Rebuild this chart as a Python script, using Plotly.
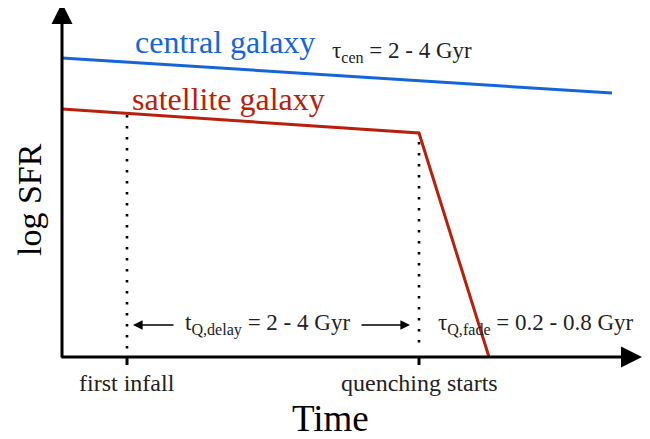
import plotly.graph_objects as go

# Schematic data (arbitrary units: time along x, log SFR along y)
central_time = [0, 550]
central_logsfr = [299, 264]
satellite_time = [0, 357, 427]
satellite_logsfr = [248, 224, 0]
event_time = [65, 357]
event_labels = ["first infall", "quenching starts"]
dotted_top = [242, 215]

FONT = "Liberation Serif"
BLUE = "#1565d8"
RED = "#b8200c"
TXT = "#222222"

fig = go.Figure()

# dotted vertical markers
for t, top in zip(event_time, dotted_top):
    fig.add_trace(go.Scatter(x=[t, t], y=[top, 6], mode="lines",
                             line=dict(color="black", width=2.6, dash="2.6px,8.4px"),
                             hoverinfo="skip", showlegend=False))

fig.add_trace(go.Scatter(x=central_time, y=central_logsfr, mode="lines",
                         line=dict(color=BLUE, width=3), showlegend=False))
fig.add_trace(go.Scatter(x=satellite_time, y=satellite_logsfr, mode="lines",
                         line=dict(color=RED, width=3), showlegend=False))

ann = []
# axes with arrows
ann.append(dict(x=0, y=354, ax=0, ay=-2, xref="x", yref="y", axref="x", ayref="y",
                showarrow=True, arrowhead=2, arrowsize=1.4, arrowwidth=3, arrowcolor="black", text=""))
ann.append(dict(x=580, y=0, ax=-2, ay=0, xref="x", yref="y", axref="x", ayref="y",
                showarrow=True, arrowhead=2, arrowsize=1.4, arrowwidth=3, arrowcolor="black", text=""))

# ticks
for t, lab in zip(event_time, event_labels):
    fig.add_shape(type="line", x0=t, x1=t, y0=0, y1=-8, xref="x", yref="y",
                  line=dict(color="black", width=3))
    ann.append(dict(x=t, y=-26, xref="x", yref="y", text=lab, showarrow=False,
                    font=dict(family=FONT, size=24, color=TXT)))

# delay arrows
ann.append(dict(x=event_time[0] + 6, y=32, ax=event_time[0] + 48, ay=32, xref="x", yref="y",
                axref="x", ayref="y", showarrow=True, arrowhead=2, arrowsize=1.2,
                arrowwidth=1.6, arrowcolor="black", text=""))
ann.append(dict(x=event_time[1] - 9, y=32, ax=event_time[1] - 59, ay=32, xref="x", yref="y",
                axref="x", ayref="y", showarrow=True, arrowhead=2, arrowsize=1.2,
                arrowwidth=1.6, arrowcolor="black", text=""))

ann.append(dict(x=205, y=33, xref="x", yref="y", showarrow=False,
                text="t<sub>Q,delay</sub> = 2 - 4 Gyr",
                font=dict(family=FONT, size=23, color=TXT)))
ann.append(dict(x=474, y=33, xref="x", yref="y", showarrow=False,
                text="τ<sub>Q,fade</sub> = 0.2 - 0.8 Gyr",
                font=dict(family=FONT, size=23, color=TXT)))

ann.append(dict(x=163, y=315, xref="x", yref="y", showarrow=False, text="central galaxy",
                font=dict(family=FONT, size=32, color=BLUE)))
ann.append(dict(x=340, y=305, xref="x", yref="y", showarrow=False,
                text="τ<sub>cen</sub> = 2 - 4 Gyr",
                font=dict(family=FONT, size=23, color=TXT)))
ann.append(dict(x=166, y=258, xref="x", yref="y", showarrow=False, text="satellite galaxy",
                font=dict(family=FONT, size=32, color=RED)))

ann.append(dict(x=-33, y=157, xref="x", yref="y", showarrow=False, text="log SFR", textangle=-90,
                font=dict(family=FONT, size=34, color="black")))
ann.append(dict(x=268, y=-61, xref="x", yref="y", showarrow=False, text="Time",
                font=dict(family=FONT, size=37, color="black")))

# page body has an 8px margin: shift ranges so the schematic lands where the reference has it
fig.update_layout(
    width=650, height=439,
    margin=dict(l=0, r=0, t=0, b=0),
    paper_bgcolor="white", plot_bgcolor="white",
    xaxis=dict(range=[-54, 596], visible=False, fixedrange=True),
    yaxis=dict(range=[-90, 349], visible=False, fixedrange=True),
    annotations=ann,
    showlegend=False,
)

fig.write_html("out.html")
